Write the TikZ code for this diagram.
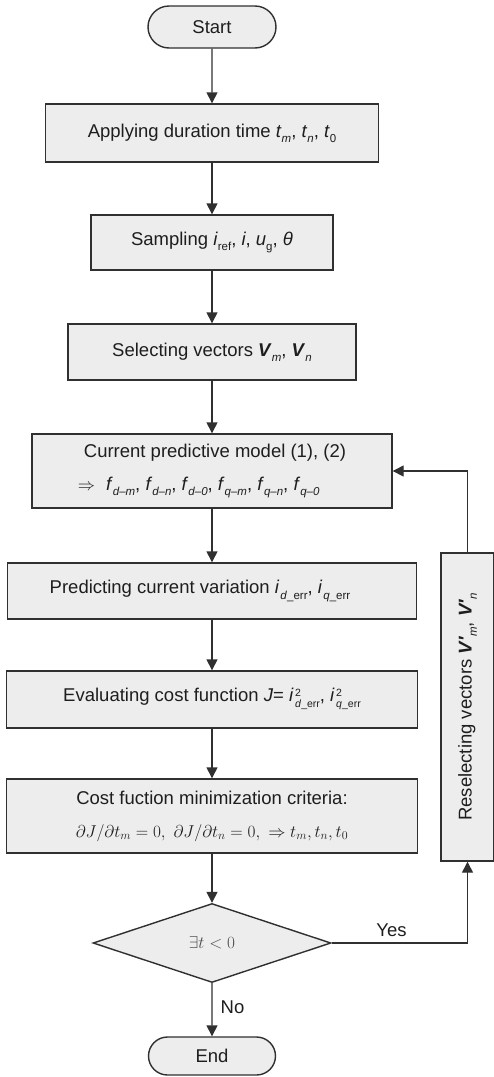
\documentclass[tikz,border=0pt]{standalone}
\usepackage[no-math]{fontspec}
\setmainfont{Liberation Sans}
\usetikzlibrary{arrows.meta,shapes.geometric,shapes.misc}

% small lowered index
\newcommand\sbs[1]{\raisebox{-0.28em}{\fontsize{11.5bp}{11.5bp}\selectfont #1}}
% italic symbol with italic subscript
\newcommand\ivar[2]{\textit{#1}\sbs{\textit{#2}}}
% italic symbol with upright subscript
\newcommand\rvar[2]{\textit{#1}\sbs{#2}}
% bold italic vector with italic subscript
\newcommand\vvec[2]{\textbf{\textit{#1}}\sbs{\textit{#2}}}
% current error component
\newcommand\ierr[1]{\textit{i}\kern1bp\sbs{\textit{#1}\_err}}
% squared current error component: exponent stacked over the index
\newcommand\ierrsq[1]{\textit{i}\kern1.5bp\raisebox{-5.5bp}{\fontsize{10.5bp}{11bp}\selectfont
  \begin{tabular}[b]{@{}l@{}}2\\[0bp]\textit{#1}\_err\end{tabular}}}

\definecolor{boxfill}{HTML}{EDEDED}
\definecolor{boxline}{HTML}{303030}
\definecolor{inktext}{HTML}{1E1E1E}

\tikzset{
  base/.style={draw=boxline, fill=boxfill, line width=1.4bp, text=inktext,
    font=\fontsize{18.5bp}{33bp}\selectfont, inner sep=0pt},
  procbox/.style={base, rectangle, align=center},
  termbox/.style={base, rounded rectangle},
  decide/.style={base, diamond, aspect=3},
  flow/.style={draw=boxline, line width=1.4bp,
    -{Triangle[length=11bp,width=11bp]}},
  lbl/.style={text=inktext, font=\fontsize{18.5bp}{22bp}\selectfont, inner sep=0pt}
}

\begin{document}
\begin{tikzpicture}[x=1bp, y=-1bp]
  \useasboundingbox (0,0) rectangle (494,1077);

  \node[termbox, minimum width=128bp, minimum height=42bp] (start) at (212,27) {Start};

  \node[procbox, minimum width=333bp, minimum height=58bp] (apply) at (212,133)
    {Applying duration time \ivar{t}{m}, \ivar{t}{n}, \rvar{t}{0}};

  \node[procbox, minimum width=242bp, minimum height=55bp] (sample) at (212,242.5)
    {Sampling \rvar{i}{ref}, \textit{i}, \rvar{u}{g}, \textit{θ}};

  \node[procbox, minimum width=288bp, minimum height=56bp] (select) at (212,352)
    {Selecting vectors \vvec{V}{m}, \vvec{V}{n}};

  \node[procbox, minimum width=360bp, minimum height=74bp, align=left] (model) at (212,471)
    {\hspace{6bp}Current predictive model (1), (2)\\
     $\Rightarrow$\hspace{11bp}\ivar{f}{d–m}, \ivar{f}{d–n}, \ivar{f}{d–0}, \ivar{f}{q–m}, \ivar{f}{q–n}, \ivar{f}{q–0}\hspace{34bp}};

  \node[procbox, minimum width=409bp, minimum height=56bp] (predict) at (212,591)
    {\hspace*{-24bp}Predicting current variation \ierr{d}, \ierr{q}};

  \node[procbox, minimum width=411bp, minimum height=57bp] (cost) at (212,699.5)
    {Evaluating cost function \textit{J}= \ierrsq{d}, \ierrsq{q}};

  \node[procbox, minimum width=411bp, minimum height=74bp] (crit) at (212,816)
    {Cost fuction minimization criteria:\\
     $\partial J\big/\partial t_m=0,\ \partial J\big/\partial t_n=0,\ \Rightarrow t_m, t_n, t_0$};

  \node[decide, minimum width=238bp, minimum height=79bp] (check) at (212,943)
    {\color{black!70}$\exists t<0$};

  \node[termbox, minimum width=127bp, minimum height=38bp] (stop) at (212,1056) {End};

  \node[procbox, minimum width=53bp, minimum height=308bp] (reselect) at (467.5,707)
    {\rotatebox{90}{Reselecting vectors \textbf{\textit{V′}}\sbs{\textit{m}}, \textbf{\textit{V′}}\sbs{\textit{n}}}};

  % main sequence
  \draw[flow] (start) -- (apply);
  \draw[flow] (apply) -- (sample);
  \draw[flow] (sample) -- (select);
  \draw[flow] (select) -- (model);
  \draw[flow] (model) -- (predict);
  \draw[flow] (predict) -- (cost);
  \draw[flow] (cost) -- (crit);
  \draw[flow] (crit) -- (check);
  \draw[flow] (check) -- node[lbl, right=8bp, pos=0.45] {No} (stop);

  % feedback loop
  \draw[flow] (check.east) -| node[lbl, above, pos=0.22, yshift=6bp] {Yes} (reselect.south);
  \draw[flow] (reselect.north) |- (model.east);
\end{tikzpicture}
\end{document}
